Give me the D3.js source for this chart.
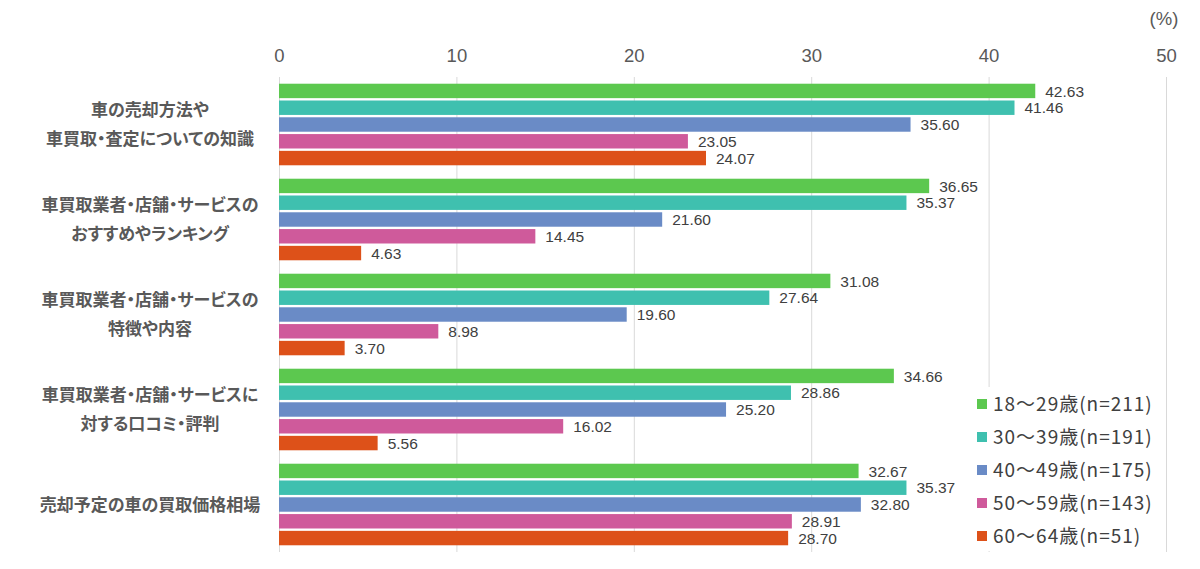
<!DOCTYPE html>
<html>
<head>
<meta charset="utf-8">
<script src="https://cdn.jsdelivr.net/npm/d3@7"></script>
<style>
  body { margin: 0; background: #fff; }
  svg { display: block; }
  .cat { font-feature-settings: "palt"; }
</style>
</head>
<body>
<div class="chart"></div>
<script>
// categories (two-line labels where the chart breaks them)
const categories = [
    ["車の売却方法や", "車買取・査定についての知識"],
    ["車買取業者・店舗・サービスの", "おすすめやランキング"],
    ["車買取業者・店舗・サービスの", "特徴や内容"],
    ["車買取業者・店舗・サービスに", "対する口コミ・評判"],
    ["売却予定の車の買取価格相場"]
];
const seriesNames = ["18〜29歳(n=211)", "30〜39歳(n=191)", "40〜49歳(n=175)", "50〜59歳(n=143)", "60〜64歳(n=51)"];
const age18_29 = [42.63, 36.65, 31.08, 34.66, 32.67];
const age30_39 = [41.46, 35.37, 27.64, 28.86, 35.37];
const age40_49 = [35.60, 21.60, 19.60, 25.20, 32.80];
const age50_59 = [23.05, 14.45, 8.98, 16.02, 28.91];
const age60_64 = [24.07, 4.63, 3.70, 5.56, 28.70];
const xTicks = [0, 10, 20, 30, 40, 50];
const colors = ["#5cc84f", "#3fc0af", "#6a8bc6", "#cf5a9b", "#dd5119"];

const series = [age18_29, age30_39, age40_49, age50_59, age60_64];

const w = 1200, h = 569;
const svg = d3.select('.chart').append('svg')
    .attr('width', w)
    .attr('height', h);

const x = d3.scaleLinear().domain([0, 50]).range([279, 1166]);
const y0 = d3.scaleBand().domain(d3.range(categories.length)).range([77, 552]);
const y1 = d3.scaleBand().domain(d3.range(seriesNames.length))
    .range([0, y0.bandwidth()])
    .paddingInner(0.14)
    .paddingOuter(0.4);

const numFont = '"Liberation Sans", Arial, sans-serif';
const jpFont = '"Noto Sans CJK JP", sans-serif';

//gridlines
svg.selectAll('line.grid')
    .data(xTicks)
    .enter()
    .append('line')
    .attr('class', 'grid')
    .attr('x1', d => x(d) + 0.5)
    .attr('x2', d => x(d) + 0.5)
    .attr('y1', 77)
    .attr('y2', 552)
    .attr('stroke', '#d9d9d9')
    .attr('stroke-width', 1);

//top axis labels
const axis = d3.axisTop(x).tickValues(xTicks).tickSize(0).tickPadding(0);
svg.append('g')
    .attr('transform', 'translate(0,62)')
    .call(axis)
    .call(g => g.select('.domain').remove())
    .selectAll('text')
    .attr('font-size', 18.5)
    .attr('font-family', numFont)
    .attr('fill', '#595959');

svg.append('text')
    .text('(%)')
    .attr('x', 1164)
    .attr('y', 25)
    .attr('text-anchor', 'middle')
    .attr('font-size', 18.5)
    .attr('font-family', numFont)
    .attr('fill', '#595959');

//bars
const groups = svg.selectAll('g.group')
    .data(categories)
    .enter()
    .append('g')
    .attr('class', 'group')
    .attr('transform', (d, i) => `translate(0,${y0(i)})`);

groups.selectAll('rect')
    .data((d, i) => series.map((s, j) => ({ v: s[i], j: j })))
    .enter()
    .append('rect')
    .attr('x', x(0))
    .attr('y', d => y1(d.j))
    .attr('width', d => x(d.v) - x(0))
    .attr('height', y1.bandwidth())
    .attr('fill', d => colors[d.j]);

groups.selectAll('text.val')
    .data((d, i) => series.map((s, j) => ({ v: s[i], j: j })))
    .enter()
    .append('text')
    .attr('class', 'val')
    .text(d => d.v.toFixed(2))
    .attr('x', d => x(d.v) + 10)
    .attr('y', d => y1(d.j) + y1.bandwidth() / 2)
    .attr('dy', '0.36em')
    .attr('font-size', 15.5)
    .attr('font-family', numFont)
    .attr('fill', '#404040');

//category labels
groups.each(function(lines) {
    const g = d3.select(this);
    const mid = y0.bandwidth() / 2;
    lines.forEach((line, k) => {
        g.append('text')
            .attr('class', 'cat')
            .text(line)
            .attr('x', 150)
            .attr('y', mid + (k - (lines.length - 1) / 2) * 29)
            .attr('dy', '0.36em')
            .attr('text-anchor', 'middle')
            .attr('font-size', 17)
            .attr('font-weight', 'bold')
            .attr('font-family', jpFont)
            .attr('fill', '#595959');
    });
});

//legend
svg.append('rect')
    .attr('x', 974)
    .attr('y', 387)
    .attr('width', 190)
    .attr('height', 164)
    .attr('fill', '#fff');

const legend = svg.selectAll('g.legend')
    .data(seriesNames)
    .enter()
    .append('g')
    .attr('class', 'legend')
    .attr('transform', (d, i) => `translate(977,${404 + i * 33})`);

legend.append('rect')
    .attr('x', 0)
    .attr('y', -5)
    .attr('width', 10)
    .attr('height', 10)
    .attr('fill', (d, i) => colors[i]);

legend.append('text')
    .text(d => d)
    .attr('x', 16)
    .attr('y', 0)
    .attr('dy', '0.36em')
    .attr('font-size', 19)
    .attr('letter-spacing', 1)
    .attr('font-family', jpFont)
    .attr('fill', '#404040');
</script>
</body>
</html>
